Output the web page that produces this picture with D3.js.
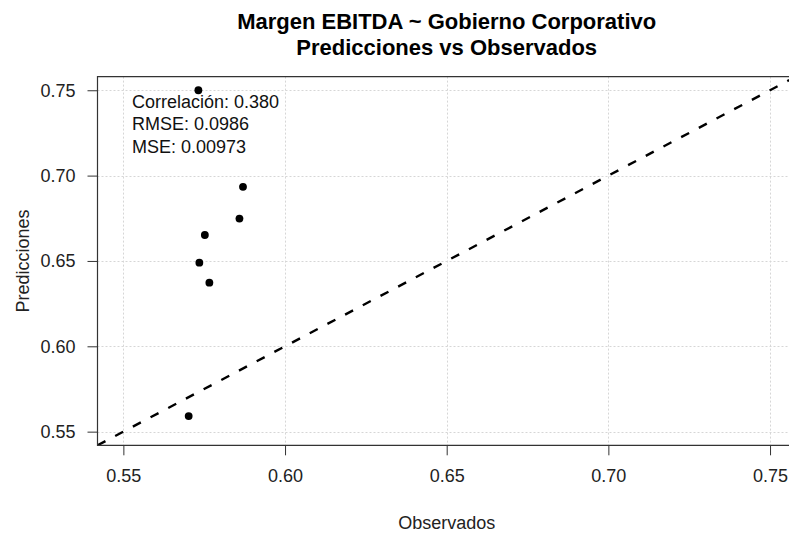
<!DOCTYPE html>
<html>
<head>
<meta charset="utf-8">
<script src="https://cdn.jsdelivr.net/npm/d3@7"></script>
<style>
  html, body { margin: 0; padding: 0; background: #fff; }
  svg { display: block; font-family: "Liberation Sans", Arial, sans-serif; }
</style>
</head>
<body>
<script>
// Observed vs predicted EBITDA margin
const observados   = [0.5732, 0.5870, 0.5859, 0.5752, 0.5735, 0.5766, 0.5702];
const predicciones = [0.7500, 0.6934, 0.6748, 0.6652, 0.6490, 0.6373, 0.5591];
const ticks = [0.55, 0.60, 0.65, 0.70, 0.75];
const statLines = ["Correlación: 0.380", "RMSE: 0.0986", "MSE: 0.00973"];
const titleLines = ["Margen EBITDA ~ Gobierno Corporativo", "Predicciones vs Observados"];
const xLabel = "Observados";
const yLabel = "Predicciones";
const domain = [0.542, 0.758];

const W = 789, H = 533;
const plot = { left: 97.5, right: 795.9, top: 76.6, bottom: 445.3 };

const svg = d3.select("body").append("svg").attr("width", W).attr("height", H);

const x = d3.scaleLinear().domain(domain).range([plot.left, plot.right]);
const y = d3.scaleLinear().domain(domain).range([plot.bottom, plot.top]);

svg.append("clipPath").attr("id", "plotclip")
  .append("rect")
  .attr("x", plot.left).attr("y", plot.top)
  .attr("width", plot.right - plot.left).attr("height", plot.bottom - plot.top);

// dotted grid at the tick positions
const grid = svg.append("g").attr("clip-path", "url(#plotclip)")
  .attr("stroke", "#d6d6d6").attr("stroke-width", 1).attr("stroke-dasharray", "2,2");
grid.selectAll("line.v").data(ticks).join("line").attr("class", "v")
  .attr("x1", d => Math.round(x(d)) + 0.5).attr("x2", d => Math.round(x(d)) + 0.5)
  .attr("y1", plot.top).attr("y2", plot.bottom);
grid.selectAll("line.h").data(ticks).join("line").attr("class", "h")
  .attr("y1", d => Math.round(y(d)) + 0.5).attr("y2", d => Math.round(y(d)) + 0.5)
  .attr("x1", plot.left).attr("x2", plot.right);

// identity reference line
svg.append("line").attr("clip-path", "url(#plotclip)")
  .attr("x1", x(domain[0])).attr("y1", y(domain[0]))
  .attr("x2", x(domain[1])).attr("y2", y(domain[1]))
  .attr("stroke", "#000").attr("stroke-width", 2.4).attr("stroke-dasharray", "9,11");

// points
svg.append("g").selectAll("circle")
  .data(d3.range(observados.length)).join("circle")
  .attr("cx", i => x(observados[i])).attr("cy", i => y(predicciones[i]))
  .attr("r", 3.9).attr("fill", "#000");

// axes
const xAxis = svg.append("g").attr("transform", `translate(0,${plot.bottom})`)
  .call(d3.axisBottom(x).tickValues(ticks).tickFormat(d3.format(".2f")).tickSize(10).tickPadding(14));
const yAxis = svg.append("g").attr("transform", `translate(${plot.left},0)`)
  .call(d3.axisLeft(y).tickValues(ticks).tickFormat(d3.format(".2f")).tickSize(10).tickPadding(12));
[xAxis, yAxis].forEach(a => {
  a.select(".domain").remove();
  a.selectAll(".tick line").attr("stroke", "#333");
  a.selectAll(".tick text").attr("fill", "#222").style("font-size", "18px")
    .style("font-family", '"Liberation Sans", Arial, sans-serif');
});

// box (the right side runs past the window edge)
svg.append("path")
  .attr("d", `M${plot.right},${plot.top}H${plot.left}V${plot.bottom}H${plot.right}`)
  .attr("fill", "none").attr("stroke", "#333").attr("stroke-width", 1.2);

// fit statistics
svg.append("g").selectAll("text").data(statLines).join("text")
  .attr("x", 132).attr("y", (d, i) => 107.5 + i * 22.7)
  .attr("fill", "#111").style("font-size", "18px").text(d => d);

// titles
svg.append("g").selectAll("text").data(titleLines).join("text")
  .attr("x", (plot.left + plot.right) / 2).attr("y", (d, i) => 28.5 + i * 26)
  .attr("text-anchor", "middle").style("font-size", "22px").style("font-weight", "bold")
  .attr("fill", "#000").text(d => d);

svg.append("text").attr("x", (plot.left + plot.right) / 2).attr("y", 528.5)
  .attr("text-anchor", "middle").style("font-size", "18px").attr("fill", "#222").text(xLabel);

svg.append("text")
  .attr("transform", `translate(28.5,${(plot.top + plot.bottom) / 2}) rotate(-90)`)
  .attr("text-anchor", "middle").style("font-size", "18px").attr("fill", "#222").text(yLabel);
</script>
</body>
</html>
